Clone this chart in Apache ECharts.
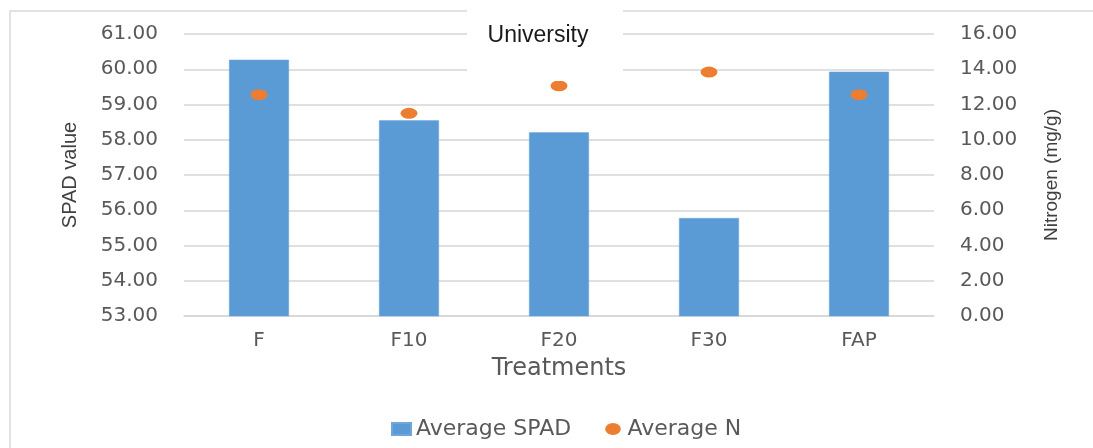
<!DOCTYPE html>
<html>
<head>
<meta charset="utf-8">
<script src="https://cdn.jsdelivr.net/npm/echarts@6/dist/echarts.min.js"></script>
<style>
  html, body { margin: 0; padding: 0; background: #ffffff; }
  #chart { width: 1093px; height: 448px; }
</style>
</head>
<body>
<div id="chart"></div>
<script>
// Treatments and their measured averages
const treatments = ['F', 'F10', 'F20', 'F30', 'FAP'];
const averageSpad = [60.27, 58.55, 58.21, 55.78, 59.93];
const averageN = [12.56, 11.5, 13.06, 13.84, 12.56];

// Axis ranges
const spadRange = [53, 61, 1];
const nitrogenRange = [0, 16, 2];

const labelColor = '#595959';
const gridColor = '#d6d6d6';
const tickFont = 'DejaVu Sans';

// Oval legend marker for the nitrogen series
const ovalIcon = 'path://M8.5,0A8.5,6.5 0 1,1 8.5,13A8.5,6.5 0 1,1 8.5,0z';

const chart = echarts.init(document.getElementById('chart'), null, { renderer: 'canvas' });

chart.setOption({
  backgroundColor: '#ffffff',
  animation: false,
  grid: { left: 184, right: 159, top: 34, bottom: 132 },
  legend: {
    left: 386,
    top: 413,
    itemWidth: 19,
    itemHeight: 12,
    itemGap: 34,
    textStyle: { color: labelColor, fontSize: 22, fontFamily: tickFont },
    data: [
      { name: 'Average SPAD', icon: 'rect' },
      { name: 'Average N', icon: ovalIcon }
    ]
  },
  xAxis: {
    type: 'category',
    data: treatments,
    name: 'Treatments',
    nameLocation: 'middle',
    nameGap: 41,
    nameTextStyle: { color: labelColor, fontSize: 24, fontFamily: tickFont },
    axisLine: { lineStyle: { color: gridColor, width: 1.5 } },
    axisTick: { show: false },
    axisLabel: { color: labelColor, fontSize: 20, fontFamily: tickFont, margin: 15 }
  },
  yAxis: [
    {
      type: 'value',
      min: spadRange[0],
      max: spadRange[1],
      interval: spadRange[2],
      name: 'SPAD value',
      nameLocation: 'middle',
      nameRotate: 90,
      nameGap: 104,
      nameTextStyle: { color: '#404040', fontSize: 20, fontFamily: 'Liberation Sans' },
      axisLine: { show: false },
      axisTick: { show: false },
      splitLine: { lineStyle: { color: gridColor, width: 1.5 } },
      axisLabel: {
        color: labelColor, fontSize: 20, fontFamily: tickFont, margin: 26,
        formatter: v => v.toFixed(2)
      }
    },
    {
      type: 'value',
      min: nitrogenRange[0],
      max: nitrogenRange[1],
      interval: nitrogenRange[2],
      position: 'right',
      name: 'Nitrogen (mg/g)',
      nameLocation: 'middle',
      nameRotate: 90,
      nameGap: 108,
      nameTextStyle: { color: '#404040', fontSize: 19, fontFamily: 'Liberation Sans' },
      axisLine: { show: false },
      axisTick: { show: false },
      splitLine: { show: false },
      axisLabel: {
        color: labelColor, fontSize: 20, fontFamily: tickFont, margin: 26,
        formatter: v => v.toFixed(2)
      }
    }
  ],
  series: [
    {
      name: 'Average SPAD',
      type: 'bar',
      yAxisIndex: 0,
      data: averageSpad,
      barWidth: '40%',
      itemStyle: { color: '#5b9bd5', borderColor: '#6fa7da', borderWidth: 0.5 }
    },
    {
      name: 'Average N',
      type: 'scatter',
      yAxisIndex: 1,
      data: averageN,
      symbol: 'circle',
      symbolSize: [17, 11],
      itemStyle: { color: '#ed7d31', opacity: 1 },
      z: 3
    }
  ],
  graphic: [
    {
      type: 'rect',
      silent: true,
      shape: { x: 10, y: 11, width: 1200, height: 600 },
      style: { fill: 'none', stroke: '#d9d9d9', lineWidth: 1.5 },
      z: -10
    },
    {
      type: 'rect',
      silent: true,
      shape: { x: 467, y: -2, width: 156, height: 83 },
      style: { fill: '#ffffff' },
      z: 100
    },
    {
      type: 'text',
      silent: true,
      x: 538,
      y: 36,
      style: {
        text: 'University',
        fill: '#1a1a1a',
        font: '23px "Liberation Sans"',
        textAlign: 'center',
        textVerticalAlign: 'middle'
      },
      z: 101
    }
  ]
});
</script>
</body>
</html>
